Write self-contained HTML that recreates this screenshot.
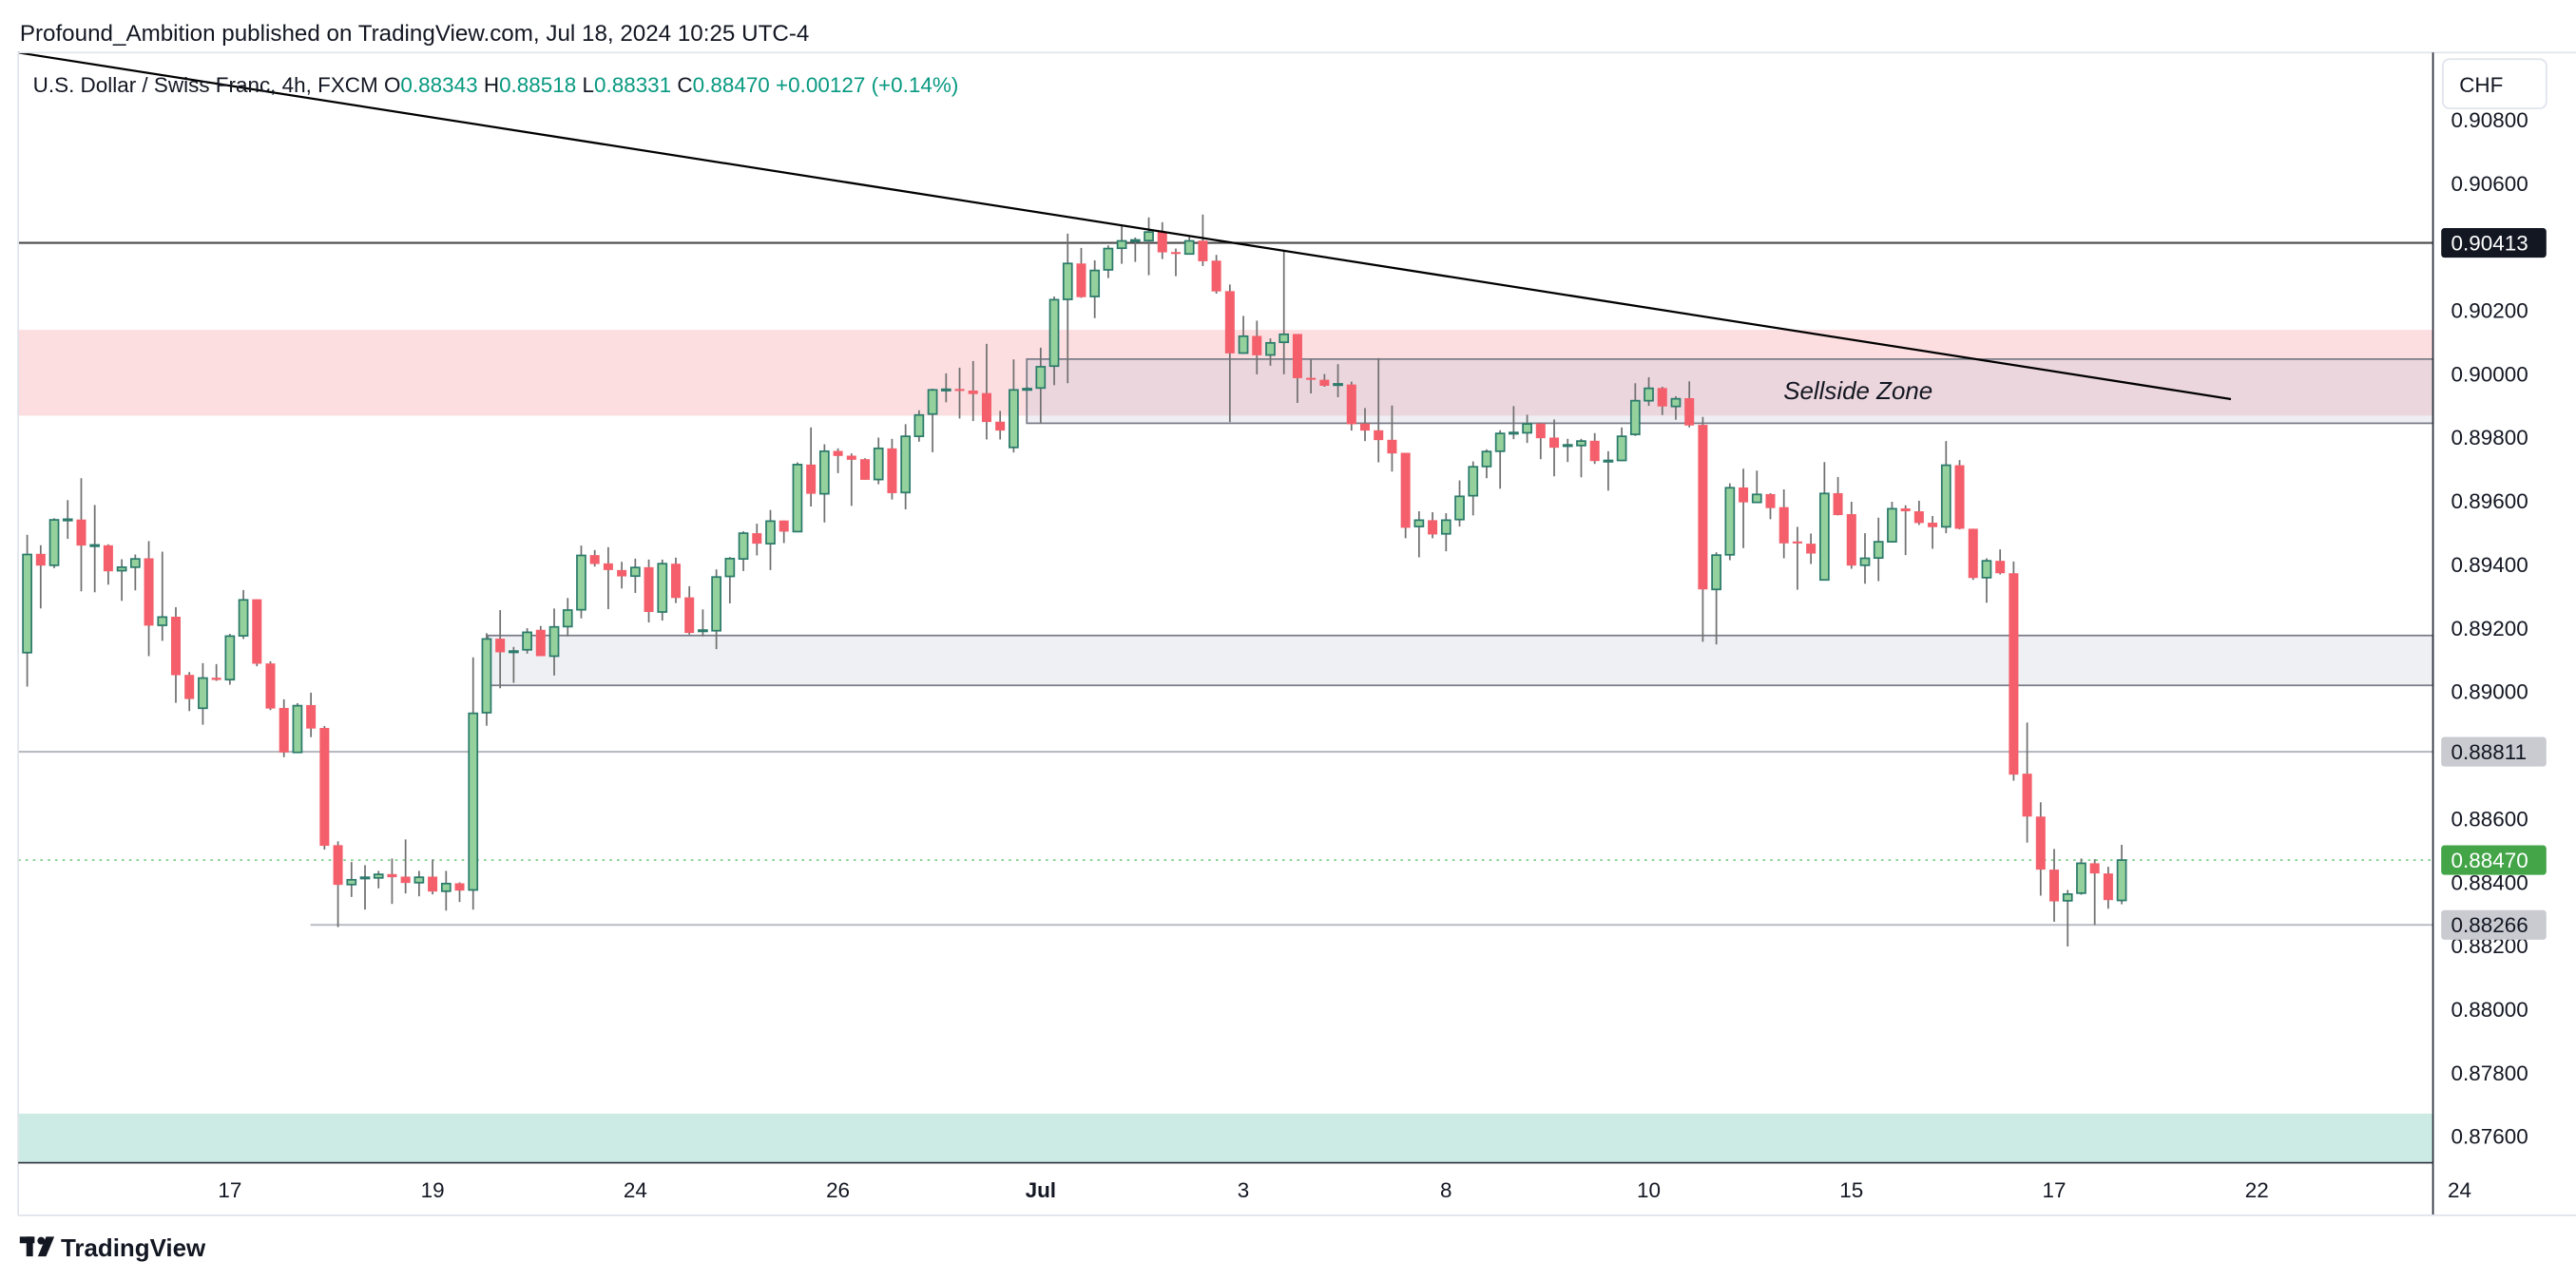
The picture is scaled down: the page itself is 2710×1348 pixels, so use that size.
<!DOCTYPE html>
<html><head><meta charset="utf-8"><style>
html,body{margin:0;padding:0;background:#fff;}
svg{display:block;font-family:"Liberation Sans",sans-serif;}
</style></head><body>
<svg id="chart" width="2710" height="1348" viewBox="0 0 1568 780" xmlns="http://www.w3.org/2000/svg">
<rect width="1568" height="780" fill="#fff"/>
<text x="12" y="25" font-size="14" fill="#131722">Profound_Ambition published on TradingView.com, Jul 18, 2024 10:25 UTC-4</text>
<g id="pane"></g>
<g id="marks"></g>
<g id="overlay"></g>
<g id="axes"></g>
<text x="20" y="56" font-size="13" fill="#131722">U.S. Dollar / Swiss Franc, 4h, FXCM  <tspan fill="#131722">O</tspan><tspan fill="#089981">0.88343</tspan> <tspan fill="#131722">H</tspan><tspan fill="#089981">0.88518</tspan> <tspan fill="#131722">L</tspan><tspan fill="#089981">0.88331</tspan> <tspan fill="#131722">C</tspan><tspan fill="#089981">0.88470</tspan> <tspan fill="#089981">+0.00127 (+0.14%)</tspan></text>
<g><rect x="1487" y="36" width="63" height="30" rx="4" fill="#fff" stroke="#e0e3eb"/><text x="1497" y="56" font-size="13" fill="#131722">CHF</text></g>
<g>
<rect x="12" y="753" width="9" height="4" fill="#131722"/><rect x="16" y="753" width="4" height="12" fill="#131722"/><circle cx="25" cy="755.5" r="2.3" fill="#131722"/><polygon points="28,753 33,753 28,765 23,765" fill="#131722"/>
<text x="37" y="765" font-size="15" font-weight="bold" fill="#131722">TradingView</text></g>
</svg>
<script>
const opens=[89123,89434,89398,89543,89542,89462,89461,89381,89392,89420,89209,89236,89053,88948,89044,89038,89176,89291,89089,88949,88809,88958,88886,88517,88393,88416,88414,88426,88418,88399,88418,88372,88397,88376,88934,89167,89128,89132,89195,89112,89205,89258,89430,89404,89383,89364,89392,89251,89403,89297,89194,89192,89363,89418,89499,89466,89539,89504,89715,89623,89758,89743,89732,89668,89766,89627,89804,89874,89952,89953,89948,89940,89850,89769,89954,89956,90025,90235,90348,90244,90328,90396,90422,90420,90447,90384,90378,90420,90357,90261,90066,90120,90060,90100,90126,89988,89982,89969,89967,89844,89823,89793,89752,89520,89540,89497,89542,89617,89709,89757,89816,89815,89844,89800,89777,89775,89790,89728,89728,89810,89916,89956,89898,89924,89840,89322,89431,89643,89596,89622,89581,89473,89466,89352,89625,89559,89398,89421,89472,89577,89568,89532,89519,89713,89513,89359,89412,89373,88742,88607,88440,88342,88366,88460,88428,88343];
const highs=[89494,89461,89546,89603,89672,89588,89464,89417,89432,89474,89441,89266,89062,89090,89087,89182,89320,89291,89096,88976,88964,88997,88892,88529,88464,88454,88436,88475,88535,88436,88472,88436,88400,89108,89184,89257,89141,89200,89207,89262,89295,89460,89446,89455,89409,89419,89416,89416,89422,89332,89259,89385,89424,89505,89529,89572,89539,89722,89832,89779,89766,89750,89735,89800,89796,89842,89886,89954,90002,90020,90041,90095,89884,90046,89960,90083,90244,90442,90397,90358,90405,90467,90430,90493,90478,90395,90435,90502,90375,90282,90183,90168,90112,90390,90126,90046,90000,90031,89976,89893,90050,89901,89752,89568,89565,89562,89665,89725,89763,89823,89899,89872,89847,89857,89796,89796,89814,89757,89832,89971,89990,89960,89930,89977,89865,89439,89656,89702,89696,89625,89637,89519,89498,89723,89676,89598,89499,89548,89598,89587,89601,89553,89789,89729,89513,89420,89448,89410,88903,88652,88505,88376,88475,88473,88449,88518];
const lows=[89016,89262,89389,89481,89316,89313,89337,89286,89319,89112,89160,88965,88939,88896,89034,89022,89166,89080,88942,88794,88807,88857,88503,88259,88354,88314,88381,88332,88365,88356,88362,88311,88338,88314,88893,89011,89028,89120,89112,89051,89174,89231,89394,89260,89325,89311,89218,89224,89279,89180,89174,89134,89278,89380,89429,89383,89468,89504,89583,89533,89688,89585,89667,89653,89605,89574,89787,89754,89911,89860,89852,89794,89794,89753,89948,89845,89965,89971,90240,90176,90302,90347,90353,90311,90362,90308,90378,90340,90253,89849,90065,89999,90026,89999,89909,89939,89960,89927,89822,89789,89722,89693,89483,89423,89483,89442,89520,89555,89672,89639,89795,89783,89732,89678,89723,89675,89717,89633,89726,89805,89900,89871,89856,89832,89157,89149,89414,89452,89596,89543,89420,89321,89402,89352,89555,89387,89340,89348,89472,89430,89525,89450,89499,89511,89352,89280,89369,88720,88525,88358,88276,88198,88361,88266,88317,88331];
const closes=[89432,89397,89541,89543,89460,89462,89379,89392,89418,89208,89235,89052,88977,89043,89037,89175,89289,89088,88947,88809,88956,88884,88515,88392,88408,88416,88425,88416,88398,88416,88371,88396,88374,88932,89166,89124,89128,89187,89112,89204,89257,89429,89402,89383,89363,89391,89251,89403,89295,89185,89194,89361,89419,89499,89466,89537,89504,89715,89623,89757,89742,89730,89667,89766,89625,89804,89871,89950,89952,89950,89937,89849,89822,89950,89954,90023,90234,90348,90242,90326,90395,90419,90422,90447,90383,90378,90419,90355,90260,90065,90119,90059,90098,90125,89987,89982,89963,89969,89842,89822,89792,89750,89516,89540,89495,89540,89615,89708,89756,89813,89816,89843,89798,89768,89777,89789,89726,89728,89804,89916,89955,89898,89922,89838,89322,89430,89642,89596,89621,89578,89467,89467,89435,89624,89556,89397,89420,89472,89576,89568,89531,89518,89713,89513,89358,89412,89373,88739,88607,88440,88340,88363,88460,88428,88344,88470];
const priceTicks=[0.908,0.906,0.902,0.900,0.898,0.896,0.894,0.892,0.890,0.886,0.884,0.882,0.880,0.878,0.876];
const timeTickIdx=[15,30,45,60,75,90,105,120,135,150,165,180];
const timeTickLabels=["17","19","24","26","Jul","3","8","10","15","17","22","24"];
const levelPrices=[0.90413,0.88811,0.88470,0.88266];

const NS="http://www.w3.org/2000/svg";
const PL=11,PR=1481,PT=32,PB=708;
function y(p){return 692-(p-0.876)/0.032*619;}
function x(i){return 16.5+i*8.226;}
function P(v){return v/100000;}
function mk(tag,attrs,parent){const e=document.createElementNS(NS,tag);for(const k in attrs)e.setAttribute(k,attrs[k]);parent.appendChild(e);return e;}
const pane=document.getElementById('pane'),marks=document.getElementById('marks'),ov=document.getElementById('overlay'),axes=document.getElementById('axes');

let z=mk('rect',{x:PL,y:y(0.90139),width:PR-PL,height:y(0.89869)-y(0.90139),fill:'#fcdde0'},pane);


z=mk('rect',{x:625,y:y(0.90047),width:PR-625,height:y(0.89845)-y(0.90047),fill:'rgba(200,200,215,0.3)',stroke:'#787b86','stroke-width':1},pane);


z=mk('rect',{x:297,y:y(0.89177),width:PR-297,height:y(0.89020)-y(0.89177),fill:'#eff0f4',stroke:'#787b86','stroke-width':1},pane);


z=mk('rect',{x:PL,y:y(0.87672),width:PR-PL,height:PB-y(0.87672),fill:'#cdebe5'},pane);


z=mk('line',{x1:PL,x2:PR,y1:y(0.90413),y2:y(0.90413),stroke:'#4a4a4a','stroke-width':1.2},pane);


z=mk('line',{x1:PL,x2:PR,y1:y(0.88811),y2:y(0.88811),stroke:'#b8bbc2','stroke-width':1.2},pane);


z=mk('line',{x1:189,x2:PR,y1:y(0.88266),y2:y(0.88266),stroke:'#b8bbc2','stroke-width':1.2},pane);


z=mk('line',{x1:PL,x2:PR,y1:y(0.8847),y2:y(0.8847),stroke:'#7fcf8a','stroke-width':1,'stroke-dasharray':'1.5,3'},pane);



for(let i=0;i<opens.length;i++){
  const o=P(opens[i]),h=P(highs[i]),l=P(lows[i]),c=P(closes[i]);
  const up=c>=o,cx=x(i);
  const g=mk('g',{},marks);
  
  
  mk('line',{x1:cx,x2:cx,y1:y(h),y2:y(l),stroke:'#707070','stroke-width':1},g);
  const t=y(Math.max(o,c)),b=y(Math.min(o,c));
  if(up) mk('rect',{x:cx-2.6,y:t,width:5.2,height:Math.max(b-t,0.8),fill:'#95d19c',stroke:'#2b7a6b','stroke-width':1},g);
  else mk('rect',{x:cx-2.9,y:t,width:5.8,height:Math.max(b-t,1.2),fill:'#f45f6b'},g);
}

z=mk('line',{x1:11,y1:32,x2:1358,y2:243,stroke:'#000','stroke-width':1.3},ov);


z=mk('text',{x:1131,y:243,'font-size':15,'font-style':'italic','text-anchor':'middle',fill:'#131722'},ov);
z.textContent='Sellside Zone';



mk('line',{x1:PL,x2:PL,y1:PT,y2:740,stroke:'#e0e3eb'},axes);
mk('line',{x1:PL,x2:1568,y1:PT,y2:PT,stroke:'#e0e3eb'},axes);
mk('line',{x1:PR,x2:PR,y1:PT,y2:740,stroke:'#2a2e39','stroke-width':1},axes);
mk('line',{x1:PL,x2:PR,y1:PB,y2:PB,stroke:'#2a2e39','stroke-width':1},axes);
mk('line',{x1:PL,x2:1568,y1:740,y2:740,stroke:'#e0e3eb'},axes);

for(const p of priceTicks){
  const t=mk('text',{x:1492,y:y(p)+4.5,'font-size':13,fill:'#131722'},axes);
  t.textContent=p.toFixed(5);
  
  
}
const boxFill=['#131722','#c9cbd1','#43a548','#c9cbd1'],boxText=['#fff','#131722','#fff','#131722'];
levelPrices.forEach((p,k)=>{
  const g=mk('g',{},axes);
  
  
  mk('rect',{x:1486,y:y(p)-9,width:64,height:18,rx:2,fill:boxFill[k]},g);
  const t=mk('text',{x:1492,y:y(p)+4.5,'font-size':13,fill:boxText[k]},g);
  t.textContent=p.toFixed(5);
});

timeTickIdx.forEach((ti,k)=>{
  const t=mk('text',{x:x(ti),y:729,'font-size':13,'text-anchor':'middle',fill:'#131722','font-weight':timeTickLabels[k]==='Jul'?'bold':'normal'},axes);
  t.textContent=timeTickLabels[k];
  
  
});
</script>
</body></html>
